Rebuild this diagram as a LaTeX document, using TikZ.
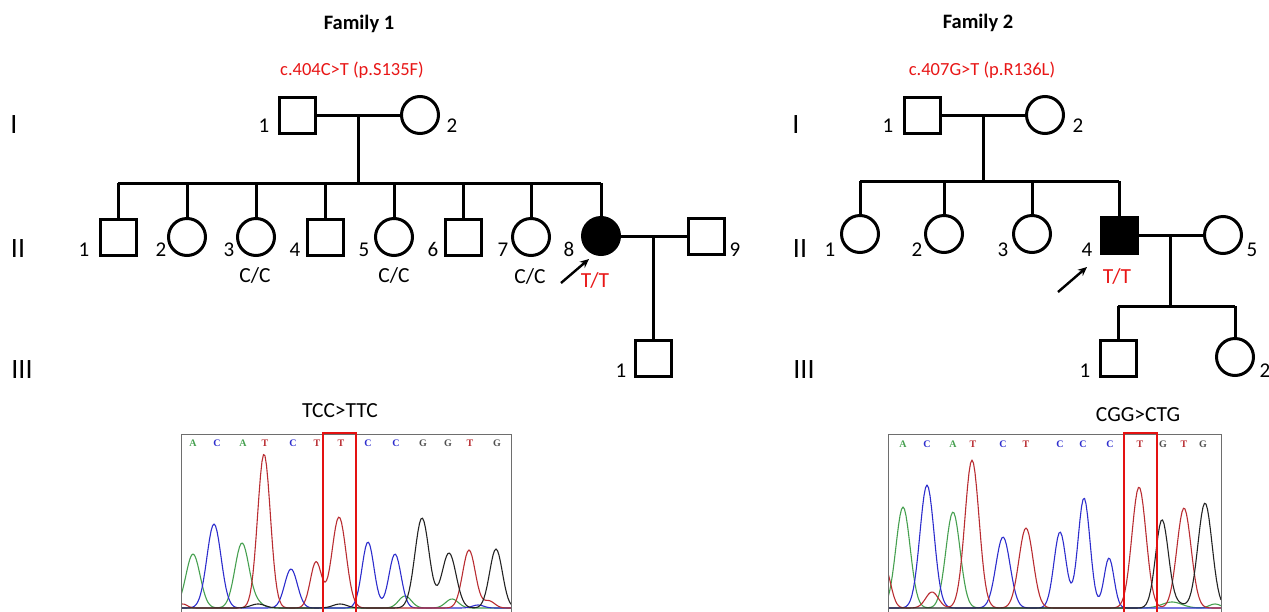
\documentclass[tikz,border=0pt]{standalone}
\usepackage{fontspec}
\setmainfont{Carlito}
\newfontfamily\basefont{Liberation Serif}
\usetikzlibrary{arrows.meta,calc}

\definecolor{mutred}{RGB}{232,22,22}
\definecolor{boxred}{RGB}{228,18,18}
\definecolor{trgreen}{RGB}{70,160,80}
\definecolor{trblue}{RGB}{45,45,205}
\definecolor{trred}{RGB}{185,45,50}
\definecolor{trblack}{RGB}{35,35,35}
\definecolor{framegray}{RGB}{110,110,110}

\begin{document}
\begin{tikzpicture}[x=1pt,y=-1pt,line width=3pt,
  declare function={g(\x,\c,\h,\w)=\h*exp(-((\x-\c)/\w)^2);},
  male/.style={draw,rectangle,minimum width=36pt,minimum height=36pt,inner sep=0pt},
  female/.style={draw,circle,minimum size=37pt,inner sep=0pt},
  affected/.style={fill=black},
  num/.style={font=\fontsize{21}{25}\selectfont,anchor=base,inner sep=0pt},
  gen/.style={font=\fontsize{28}{32}\selectfont,anchor=base,inner sep=0pt},
  geno/.style={font=\fontsize{21.5}{25}\selectfont,anchor=base,inner sep=0pt},
  title/.style={font=\fontsize{20.5}{24}\selectfont\bfseries,anchor=base,inner sep=0pt},
  variant/.style={font=\fontsize{18.5}{22}\selectfont,text=mutred,anchor=base,inner sep=0pt},
  proband/.style={line width=2.4pt,-{Stealth[length=9pt,width=8pt]}},
  seqlabel/.style={font=\fontsize{21.5}{25}\selectfont,anchor=base,inner sep=0pt},
  base/.style={font=\basefont\fontsize{10}{10}\selectfont\bfseries,inner sep=0pt},
  bA/.style={base,text=trgreen},
  bC/.style={base,text=trblue},
  bT/.style={base,text=trred},
  bG/.style={base,text=trblack!80},
  trace/.style={line width=1.1pt,line join=round},
  frame/.style={draw=framegray,line width=1pt},
  hilite/.style={draw=boxred,line width=2pt}
]
\useasboundingbox (0,0) rectangle (1269,611);

% ---------------- Family 1 ----------------
\node[title] (t1) at (359,29) {Family 1};
\node[variant] (v1) at (352,75) {c.404C>T (p.S135F)};

\node[gen] (g1a) at (14,133) {I};
\node[gen] (g1b) at (18,257) {II};
\node[gen] (g1c) at (22,378) {III};

% generation I
\node[male] (a1) at (297,115) {};
\node[female] (a2) at (420,115) {};
\node[num] (la1) at (264,132) {1};
\node[num] (la2) at (452,132) {2};
\draw (a1.east) -- (a2.west);
\coordinate (a12) at ($(a1.east)!0.5!(a2.west)$);
\coordinate (s1) at (a12 |- 0,183);
\draw (a12) -- (s1);

% generation II
\node[male] (b1) at (118,237) {};
\node[female] (b2) at (187,237) {};
\node[female] (b3) at (256,237) {};
\node[male] (b4) at (325,237) {};
\node[female] (b5) at (394,237) {};
\node[male] (b6) at (463,237) {};
\node[female] (b7) at (531,237) {};
\node[female,affected] (b8) at (601,236) {};
\node[male] (b9) at (706,236) {};

\coordinate (s1l) at (b1.north |- s1);
\coordinate (s1r) at (b8.north |- s1);
\draw (s1l) -- (s1r);
\foreach \c in {b1,b2,b3,b4,b5,b6,b7,b8}
  \draw (\c.north |- s1) -- (\c.north);

\node[num] (lb1) at (84,256) {1};
\node[num] (lb2) at (161,256) {2};
\node[num] (lb3) at (229,256) {3};
\node[num] (lb4) at (295,256) {4};
\node[num] (lb5) at (364,256) {5};
\node[num] (lb6) at (433,256) {6};
\node[num] (lb7) at (503,256) {7};
\node[num] (lb8) at (569,256) {8};
\node[num] (lb9) at (735,256) {9};

\node[geno] (gt3) at (255,282) {C/C};
\node[geno] (gt5) at (394,282) {C/C};
\node[geno] (gt7) at (530,283) {C/C};
\node[geno,text=mutred] (gt8) at (595,287) {T/T};

\coordinate (p1s) at (561,283);
\coordinate (p1e) at (589,259);
\draw[proband] (p1s) -- (p1e);

\draw (b8.east) -- (b9.west);
\coordinate (b89) at ($(b8.east)!0.5!(b9.west)$);
\node[male] (c1) at (b89 |- 0,358) {};
\draw (b89) -- (c1.north);
\node[num] (lc1) at (621,377) {1};

% ---------------- Family 2 ----------------
\node[title] (t2) at (978,28) {Family 2};
\node[variant] (v2) at (982,75) {c.407G>T (p.R136L)};

\node[gen] (g2a) at (796,133) {I};
\node[gen] (g2b) at (800,257) {II};
\node[gen] (g2c) at (804,378) {III};

% generation I
\node[male] (d1) at (922,115) {};
\node[female] (d2) at (1045,115) {};
\node[num] (ld1) at (888,132) {1};
\node[num] (ld2) at (1078,132) {2};
\draw (d1.east) -- (d2.west);
\coordinate (d12) at ($(d1.east)!0.5!(d2.west)$);
\coordinate (s2) at (d12 |- 0,181);
\draw (d12) -- (s2);

% generation II
\node[female] (e1) at (860,234) {};
\node[female] (e2) at (944,234) {};
\node[female] (e3) at (1032,234) {};
\node[male,affected] (e4) at (1119,235) {};
\node[female] (e5) at (1223,235) {};

\coordinate (s2l) at (e1.north |- s2);
\coordinate (s2r) at (e4.north |- s2);
\draw (s2l) -- (s2r);
\foreach \c in {e1,e2,e3,e4}
  \draw (\c.north |- s2) -- (\c.north);

\node[num] (le1) at (830,256) {1};
\node[num] (le2) at (917,256) {2};
\node[num] (le3) at (1003,256) {3};
\node[num] (le4) at (1087,256) {4};
\node[num] (le5) at (1252,256) {5};
\node[geno,text=mutred] (gt4) at (1117,283) {T/T};

\coordinate (p2s) at (1058,292);
\coordinate (p2e) at (1087,267);
\draw[proband] (p2s) -- (p2e);

\draw (e4.east) -- (e5.west);
\coordinate (e45) at ($(e4.east)!0.5!(e5.west)$);
\coordinate (s3) at (e45 |- 0,306);
\draw (e45) -- (s3);

% generation III
\node[male] (f1) at (1118,358) {};
\node[female] (f2) at (1235,357) {};
\draw (f1.north |- s3) -- (f2.north |- s3);
\draw (f1.north |- s3) -- (f1.north);
\draw (f2.north |- s3) -- (f2.north);
\node[num] (lf1) at (1085,377) {1};
\node[num] (lf2) at (1265,377) {2};

% ---------------- Sequence traces, family 1 ----------------
\node[seqlabel] (q1) at (340,417) {TCC>TTC};
\begin{scope}
  \clip (181,434) rectangle (511,611);
  \draw[trace,trgreen] plot[domain=181:511,samples=221]
    (\x,{608-g(\x,193,54,10)-g(\x,242,65,10)-g(\x,258,4,8)-g(\x,405,12,9)-g(\x,452,9,9)});
  \draw[trace,trblue] plot[domain=181:511,samples=221]
    (\x,{608-g(\x,214,84,10)-g(\x,291,39,9)-g(\x,368,66,8.5)-g(\x,395,54,8.5)-g(\x,478,3,8)});
  \draw[trace,trred] plot[domain=181:511,samples=221]
    (\x,{608-g(\x,183,4,6)-g(\x,264,154,9)-g(\x,316,46,8)-g(\x,339,91,10)-g(\x,469,58,9)-g(\x,489,7,8)});
  \draw[trace,trblack] plot[domain=181:511,samples=221]
    (\x,{608-g(\x,258,4,10)-g(\x,340,4,10)-g(\x,422,90,10)-g(\x,449,55,10)-g(\x,496,59,9)});
\end{scope}
\draw[frame] (181,615) -- (181,434) -- (511,434) -- (511,615);
\draw[hilite] (323,615) -- (323,433) -- (356,433) -- (356,615);
\foreach \b/\x [count=\i] in {A/193,C/217,A/243,T/265,C/293,T/317,T/341,C/368,C/396,G/423,G/448,T/470,G/497}
  \node[b\b] (sa\i) at (\x,443) {\b};

% ---------------- Sequence traces, family 2 ----------------
\node[seqlabel] (q2) at (1138,421) {CGG>CTG};
\begin{scope}
  \clip (888,434) rectangle (1221,611);
  \draw[trace,trgreen] plot[domain=888:1221,samples=223]
    (\x,{608-g(\x,903,101,10)-g(\x,953,96,10)-g(\x,1172,6,14)-g(\x,1215,4,8)});
  \draw[trace,trblue] plot[domain=888:1221,samples=223]
    (\x,{608-g(\x,927,123,10)-g(\x,1003,71,10)-g(\x,1060,76,8.5)-g(\x,1084,110,8.5)-g(\x,1109,50,7)});
  \draw[trace,trred] plot[domain=888:1221,samples=223]
    (\x,{608-g(\x,885,40,8)-g(\x,932,16,9)-g(\x,972,148,10)-g(\x,1026,80,10)-g(\x,1139,121,10)-g(\x,1184,100,10)});
  \draw[trace,trblack] plot[domain=888:1221,samples=223]
    (\x,{608-g(\x,1162,88,9)-g(\x,1178,4,10)-g(\x,1205,105,10)});
\end{scope}
\draw[frame] (888,615) -- (888,434) -- (1221,434) -- (1221,615);
\draw[hilite] (1124,615) -- (1124,433) -- (1157,433) -- (1157,615);
\foreach \b/\x [count=\i] in {A/903,C/927,A/953,T/973,C/1003,T/1026,C/1060,C/1083,C/1110,T/1140,G/1163,T/1184,G/1203}
  \node[b\b] (sb\i) at (\x,444) {\b};
\end{tikzpicture}
\end{document}
